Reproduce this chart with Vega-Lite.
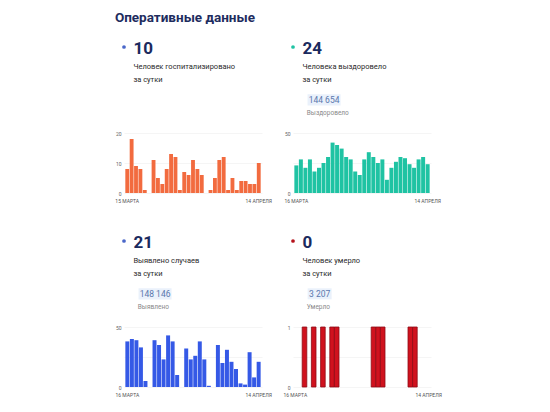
{
  "$schema": "https://vega.github.io/schema/vega-lite/v6.json",
  "background": "white",
  "padding": {"left": 114, "top": 10, "right": 5, "bottom": 5},
  "title": {
    "text": "Оперативные данные",
    "anchor": "start",
    "fontSize": 13.5,
    "fontWeight": "bold",
    "color": "#1e2c5e",
    "offset": 16
  },
  "config": {
    "font": "Roboto",
    "view": {"stroke": null},
    "axisY": {"title": null, "domain": false, "ticks": false, "labelFontSize": 5, "labelColor": "#666666", "labelPadding": 3, "gridColor": "#eeeeee", "gridWidth": 0.6},
    "axisX": {
      "title": null, "domain": false, "ticks": false, "grid": false, "labelAngle": 0,
      "labelFontSize": 5, "labelColor": "#555555", "labelPadding": 5, "labelOverlap": false,
      "labelExpr": "datum.value == '03-16' ? '16 МАРТА' : datum.value == '04-14' ? '14 АПРЕЛЯ' : ''"
    }
  },
  "datasets": {
    "days": [
      {"date": "03-15", "hosp": 8},
      {"date": "03-16", "hosp": 18, "rec": 23, "cases": 38, "deaths": 0},
      {"date": "03-17", "hosp": 9, "rec": 28, "cases": 40, "deaths": 0},
      {"date": "03-18", "hosp": 8, "rec": 21, "cases": 39, "deaths": 1},
      {"date": "03-19", "hosp": 1, "rec": 28, "cases": 33, "deaths": 0},
      {"date": "03-20", "hosp": 0, "rec": 18, "cases": 5, "deaths": 1},
      {"date": "03-21", "hosp": 11, "rec": 21, "cases": 0, "deaths": 0},
      {"date": "03-22", "hosp": 5, "rec": 25, "cases": 39, "deaths": 1},
      {"date": "03-23", "hosp": 3, "rec": 30, "cases": 35, "deaths": 0},
      {"date": "03-24", "hosp": 8, "rec": 42, "cases": 23, "deaths": 1},
      {"date": "03-25", "hosp": 13, "rec": 40, "cases": 43, "deaths": 1},
      {"date": "03-26", "hosp": 12, "rec": 37, "cases": 38, "deaths": 0},
      {"date": "03-27", "hosp": 1, "rec": 30, "cases": 10, "deaths": 0},
      {"date": "03-28", "hosp": 7, "rec": 28, "cases": 0, "deaths": 0},
      {"date": "03-29", "hosp": 6, "rec": 18, "cases": 32, "deaths": 0},
      {"date": "03-30", "hosp": 11, "rec": 15, "cases": 23, "deaths": 0},
      {"date": "03-31", "hosp": 8, "rec": 28, "cases": 26, "deaths": 0},
      {"date": "04-01", "hosp": 6, "rec": 34, "cases": 38, "deaths": 0},
      {"date": "04-02", "hosp": 0, "rec": 30, "cases": 23, "deaths": 1},
      {"date": "04-03", "hosp": 1, "rec": 25, "cases": 1, "deaths": 1},
      {"date": "04-04", "hosp": 5, "rec": 28, "cases": 0, "deaths": 1},
      {"date": "04-05", "hosp": 11, "rec": 11, "cases": 35, "deaths": 0},
      {"date": "04-06", "hosp": 12, "rec": 21, "cases": 20, "deaths": 0},
      {"date": "04-07", "hosp": 1, "rec": 26, "cases": 31, "deaths": 0},
      {"date": "04-08", "hosp": 5, "rec": 30, "cases": 21, "deaths": 0},
      {"date": "04-09", "hosp": 1, "rec": 29, "cases": 15, "deaths": 0},
      {"date": "04-10", "hosp": 4, "rec": 24, "cases": 3, "deaths": 1},
      {"date": "04-11", "hosp": 4, "rec": 21, "cases": 2, "deaths": 1},
      {"date": "04-12", "hosp": 3, "rec": 28, "cases": 29, "deaths": 0},
      {"date": "04-13", "hosp": 3, "rec": 30, "cases": 8, "deaths": 0},
      {"date": "04-14", "hosp": 10, "rec": 24, "cases": 21, "deaths": 0}
    ],
    "head": [
      {"panel": 1, "role": "num", "text": "10"},
      {"panel": 1, "role": "d1", "text": "Человек госпитализировано"},
      {"panel": 1, "role": "d2", "text": "за сутки"},
      {"panel": 2, "role": "num", "text": "24"},
      {"panel": 2, "role": "d1", "text": "Человека выздоровело"},
      {"panel": 2, "role": "d2", "text": "за сутки"},
      {"panel": 2, "role": "total", "text": "144 654"},
      {"panel": 2, "role": "label", "text": "Выздоровело"},
      {"panel": 3, "role": "num", "text": "21"},
      {"panel": 3, "role": "d1", "text": "Выявлено случаев"},
      {"panel": 3, "role": "d2", "text": "за сутки"},
      {"panel": 3, "role": "total", "text": "148 146"},
      {"panel": 3, "role": "label", "text": "Выявлено"},
      {"panel": 4, "role": "num", "text": "0"},
      {"panel": 4, "role": "d1", "text": "Человек умерло"},
      {"panel": 4, "role": "d2", "text": "за сутки"},
      {"panel": 4, "role": "total", "text": "3 207"},
      {"panel": 4, "role": "label", "text": "Умерло"}
    ]
  },
  "bounds": "flush",
  "columns": 2,
  "spacing": {"row": 48, "column": 31},
  "concat": [
    {
      "width": 138, "height": 38,
      "data": {"name": "head"},
      "transform": [{"filter": "datum.panel == 1"}],
      "encoding": {
        "y": {"field": "role", "type": "nominal", "axis": null,
          "scale": {"type": "point", "padding": 0, "range": [0, 66], "domain": ["num", "s1", "s2", "d1", "s3", "d2", "s4", "s5", "total", "s6", "label"]}}
      },
      "layer": [
        {"transform": [{"filter": "datum.role == 'num'"}],
         "mark": {"type": "point", "filled": true, "size": 14, "color": "#4a67c9", "opacity": 1},
         "encoding": {"x": {"datum": 0, "type": "quantitative", "scale": {"domain": [0, 1]}, "axis": null}}},
        {"transform": [{"filter": "datum.role == 'num'"}],
         "mark": {"type": "text", "align": "left", "baseline": "middle", "dy": 2, "fontSize": 17, "fontWeight": "bold", "color": "#1b2a5e"},
         "encoding": {"x": {"datum": 0.068, "type": "quantitative"}, "text": {"field": "text"}}},
        {"transform": [{"filter": "datum.role == 'd1' || datum.role == 'd2'"}],
         "mark": {"type": "text", "align": "left", "baseline": "middle", "fontSize": 7.5, "color": "#2a2a2a"},
         "encoding": {"x": {"datum": 0.068, "type": "quantitative"}, "text": {"field": "text"}}}
      ]
    },
    {
      "width": 138, "height": 38,
      "data": {"name": "head"},
      "transform": [{"filter": "datum.panel == 2"}],
      "encoding": {
        "y": {"field": "role", "type": "nominal", "axis": null,
          "scale": {"type": "point", "padding": 0, "range": [0, 66], "domain": ["num", "s1", "s2", "d1", "s3", "d2", "s4", "s5", "total", "s6", "label"]}}
      },
      "layer": [
        {"transform": [{"filter": "datum.role == 'num'"}],
         "mark": {"type": "point", "filled": true, "size": 14, "color": "#1fc3a3", "opacity": 1},
         "encoding": {"x": {"datum": 0, "type": "quantitative", "scale": {"domain": [0, 1]}, "axis": null}}},
        {"transform": [{"filter": "datum.role == 'num'"}],
         "mark": {"type": "text", "align": "left", "baseline": "middle", "dy": 2, "fontSize": 17, "fontWeight": "bold", "color": "#1b2a5e"},
         "encoding": {"x": {"datum": 0.068, "type": "quantitative"}, "text": {"field": "text"}}},
        {"transform": [{"filter": "datum.role == 'd1' || datum.role == 'd2'"}],
         "mark": {"type": "text", "align": "left", "baseline": "middle", "fontSize": 7.5, "color": "#2a2a2a"},
         "encoding": {"x": {"datum": 0.068, "type": "quantitative"}, "text": {"field": "text"}}},
        {"transform": [{"filter": "datum.role == 'total'"}],
         "mark": {"type": "point", "filled": true, "size": 1089, "shape": "M-1,-0.34H1V0.34H-1Z", "color": "#eaf1fb", "opacity": 1},
         "encoding": {"x": {"datum": 0.225, "type": "quantitative"}}},
        {"transform": [{"filter": "datum.role == 'total'"}],
         "mark": {"type": "text", "align": "center", "baseline": "middle", "fontSize": 8.5, "color": "#5b78ad"},
         "encoding": {"x": {"datum": 0.225, "type": "quantitative"}, "text": {"field": "text"}}},
        {"transform": [{"filter": "datum.role == 'label'"}],
         "mark": {"type": "text", "align": "left", "baseline": "middle", "fontSize": 6.5, "color": "#8a8a8a"},
         "encoding": {"x": {"datum": 0.1, "type": "quantitative"}, "text": {"field": "text"}}}
      ]
    },
    {
      "width": 138, "height": 60,
      "data": {"name": "days"},
      "mark": {"type": "bar", "color": "#f26b3f"},
      "encoding": {
        "x": {"field": "date", "type": "ordinal", "scale": {"paddingInner": 0.12, "paddingOuter": 0.3},
          "axis": {"labelExpr": "datum.value == '03-15' ? '15 МАРТА' : datum.value == '04-14' ? '14 АПРЕЛЯ' : ''"}},
        "y": {"field": "hosp", "type": "quantitative", "scale": {"domain": [0, 20]}, "axis": {"values": [0, 10, 20]}}
      }
    },
    {
      "width": 138, "height": 60,
      "data": {"name": "days"},
      "transform": [{"filter": "datum.rec != null"}],
      "mark": {"type": "bar", "color": "#1fc3a3"},
      "encoding": {
        "x": {"field": "date", "type": "ordinal", "scale": {"paddingInner": 0.12, "paddingOuter": 0.3}},
        "y": {"field": "rec", "type": "quantitative", "scale": {"domain": [0, 50]}, "axis": {"values": [0, 25, 50], "labelExpr": "datum.value == 25 ? '' : datum.label"}}
      }
    },
    {
      "width": 138, "height": 38,
      "data": {"name": "head"},
      "transform": [{"filter": "datum.panel == 3"}],
      "encoding": {
        "y": {"field": "role", "type": "nominal", "axis": null,
          "scale": {"type": "point", "padding": 0, "range": [0, 66], "domain": ["num", "s1", "s2", "d1", "s3", "d2", "s4", "s5", "total", "s6", "label"]}}
      },
      "layer": [
        {"transform": [{"filter": "datum.role == 'num'"}],
         "mark": {"type": "point", "filled": true, "size": 14, "color": "#4a67c9", "opacity": 1},
         "encoding": {"x": {"datum": 0, "type": "quantitative", "scale": {"domain": [0, 1]}, "axis": null}}},
        {"transform": [{"filter": "datum.role == 'num'"}],
         "mark": {"type": "text", "align": "left", "baseline": "middle", "dy": 2, "fontSize": 17, "fontWeight": "bold", "color": "#1b2a5e"},
         "encoding": {"x": {"datum": 0.068, "type": "quantitative"}, "text": {"field": "text"}}},
        {"transform": [{"filter": "datum.role == 'd1' || datum.role == 'd2'"}],
         "mark": {"type": "text", "align": "left", "baseline": "middle", "fontSize": 7.5, "color": "#2a2a2a"},
         "encoding": {"x": {"datum": 0.068, "type": "quantitative"}, "text": {"field": "text"}}},
        {"transform": [{"filter": "datum.role == 'total'"}],
         "mark": {"type": "point", "filled": true, "size": 1089, "shape": "M-1,-0.34H1V0.34H-1Z", "color": "#eaf1fb", "opacity": 1},
         "encoding": {"x": {"datum": 0.225, "type": "quantitative"}}},
        {"transform": [{"filter": "datum.role == 'total'"}],
         "mark": {"type": "text", "align": "center", "baseline": "middle", "fontSize": 8.5, "color": "#5b78ad"},
         "encoding": {"x": {"datum": 0.225, "type": "quantitative"}, "text": {"field": "text"}}},
        {"transform": [{"filter": "datum.role == 'label'"}],
         "mark": {"type": "text", "align": "left", "baseline": "middle", "fontSize": 6.5, "color": "#8a8a8a"},
         "encoding": {"x": {"datum": 0.1, "type": "quantitative"}, "text": {"field": "text"}}}
      ]
    },
    {
      "width": 138, "height": 38,
      "data": {"name": "head"},
      "transform": [{"filter": "datum.panel == 4"}],
      "encoding": {
        "y": {"field": "role", "type": "nominal", "axis": null,
          "scale": {"type": "point", "padding": 0, "range": [0, 66], "domain": ["num", "s1", "s2", "d1", "s3", "d2", "s4", "s5", "total", "s6", "label"]}}
      },
      "layer": [
        {"transform": [{"filter": "datum.role == 'num'"}],
         "mark": {"type": "point", "filled": true, "size": 14, "color": "#b5121b", "opacity": 1},
         "encoding": {"x": {"datum": 0, "type": "quantitative", "scale": {"domain": [0, 1]}, "axis": null}}},
        {"transform": [{"filter": "datum.role == 'num'"}],
         "mark": {"type": "text", "align": "left", "baseline": "middle", "dy": 2, "fontSize": 17, "fontWeight": "bold", "color": "#1b2a5e"},
         "encoding": {"x": {"datum": 0.068, "type": "quantitative"}, "text": {"field": "text"}}},
        {"transform": [{"filter": "datum.role == 'd1' || datum.role == 'd2'"}],
         "mark": {"type": "text", "align": "left", "baseline": "middle", "fontSize": 7.5, "color": "#2a2a2a"},
         "encoding": {"x": {"datum": 0.068, "type": "quantitative"}, "text": {"field": "text"}}},
        {"transform": [{"filter": "datum.role == 'total'"}],
         "mark": {"type": "point", "filled": true, "size": 576, "shape": "M-1,-0.46H1V0.46H-1Z", "color": "#eaf1fb", "opacity": 1},
         "encoding": {"x": {"datum": 0.193, "type": "quantitative"}}},
        {"transform": [{"filter": "datum.role == 'total'"}],
         "mark": {"type": "text", "align": "center", "baseline": "middle", "fontSize": 8.5, "color": "#5b78ad"},
         "encoding": {"x": {"datum": 0.193, "type": "quantitative"}, "text": {"field": "text"}}},
        {"transform": [{"filter": "datum.role == 'label'"}],
         "mark": {"type": "text", "align": "left", "baseline": "middle", "fontSize": 6.5, "color": "#8a8a8a"},
         "encoding": {"x": {"datum": 0.1, "type": "quantitative"}, "text": {"field": "text"}}}
      ]
    },
    {
      "width": 138, "height": 60,
      "data": {"name": "days"},
      "transform": [{"filter": "datum.cases != null"}],
      "mark": {"type": "bar", "color": "#3559e6"},
      "encoding": {
        "x": {"field": "date", "type": "ordinal", "scale": {"paddingInner": 0.12, "paddingOuter": 0.3}},
        "y": {"field": "cases", "type": "quantitative", "scale": {"domain": [0, 50]}, "axis": {"values": [0, 25, 50], "labelExpr": "datum.value == 25 ? '' : datum.label"}}
      }
    },
    {
      "width": 138, "height": 60,
      "data": {"name": "days"},
      "transform": [{"filter": "datum.deaths != null"}],
      "mark": {"type": "bar", "color": "#d0121e", "stroke": "#8e0b15"},
      "encoding": {
        "x": {"field": "date", "type": "ordinal", "scale": {"paddingInner": 0, "paddingOuter": 0}},
        "y": {"field": "deaths", "type": "quantitative", "scale": {"domain": [0, 1]}, "axis": {"values": [0, 0.5, 1], "labelExpr": "datum.value == 0.5 ? '' : format(datum.value, 'd')"}},
        "strokeWidth": {"condition": {"test": "datum.deaths == 0", "value": 0}, "value": 0.8}
      }
    }
  ]
}
